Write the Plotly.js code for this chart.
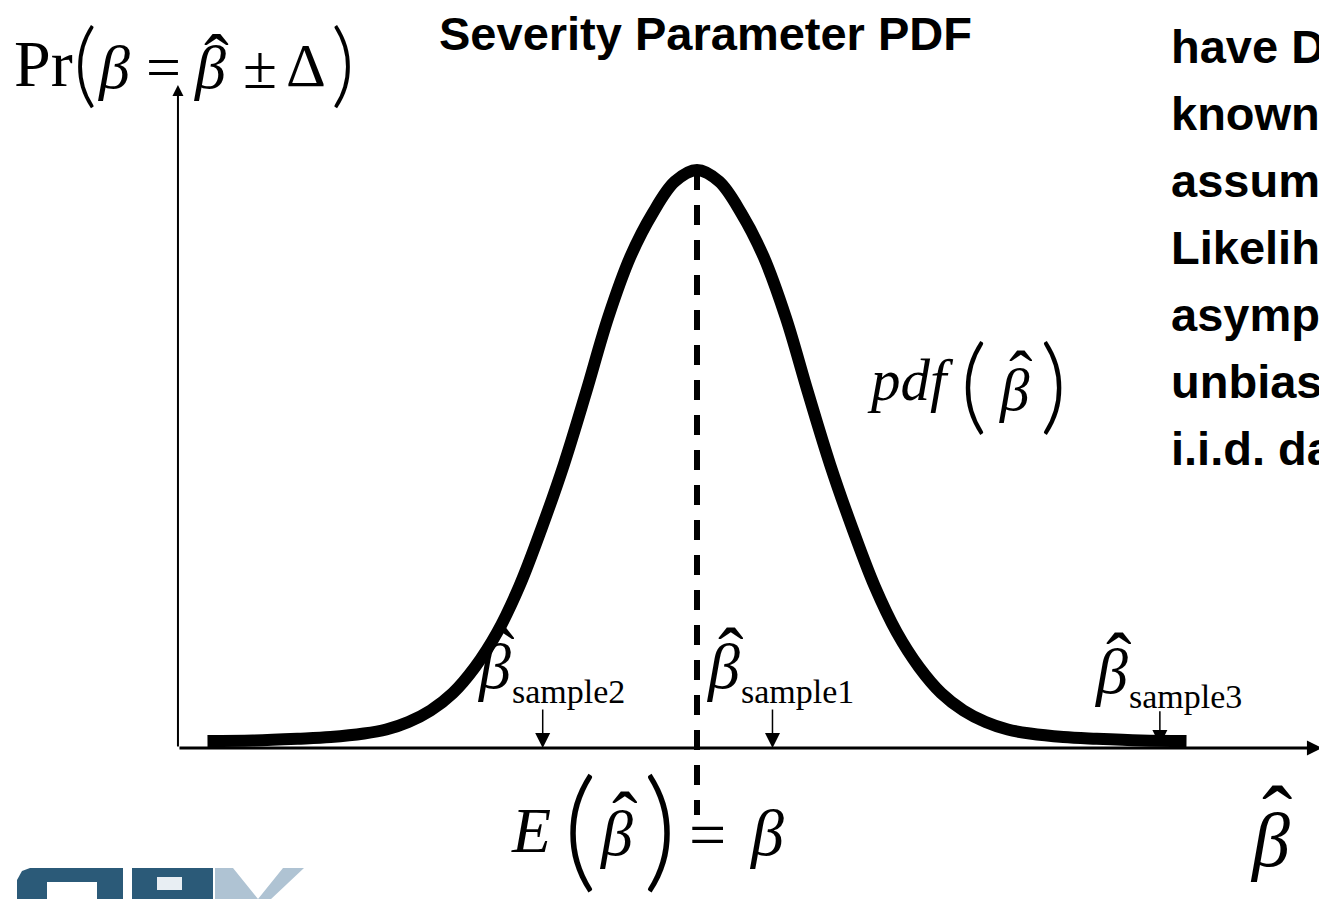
<!DOCTYPE html>
<html><head><meta charset="utf-8">
<script src="https://cdn.plot.ly/plotly-3.0.1.min.js"></script>
<style>html,body{margin:0;padding:0;overflow:hidden;background:#fff}</style>
</head><body><div id="chart" style="width:1319px;height:899px"></div>
<script>
// ---- data (x in standard-deviation units of beta-hat around its mean, y = density relative to peak)
const curveX = [-4.41, -4.0, -3.6, -3.3, -3.0, -2.8, -2.6, -2.4, -2.2, -2.0, -1.8, -1.6, -1.4, -1.2, -1.0, -0.8, -0.6, -0.4, -0.2, 0,
                0.2, 0.4, 0.6, 0.8, 1.0, 1.2, 1.4, 1.6, 1.8, 2.0, 2.2, 2.4, 2.6, 2.8, 3.0, 3.3, 3.6, 4.0, 4.41];
const curveY = [0.012, 0.013, 0.016, 0.019, 0.025, 0.032, 0.045, 0.065, 0.095, 0.140, 0.200, 0.280, 0.380, 0.490, 0.615, 0.745, 0.850, 0.925, 0.980, 1.0,
                0.980, 0.925, 0.850, 0.745, 0.615, 0.490, 0.380, 0.280, 0.200, 0.140, 0.095, 0.065, 0.045, 0.032, 0.025, 0.019, 0.016, 0.013, 0.012];
const meanX = 0;          // E(beta-hat) = beta
const peakY = 1.0;
const meanLineBottom = -0.116;
const sampleNames = ['sample2', 'sample1', 'sample3'];
const sampleX = [-1.39, 0.68, 4.17];
const sampleArrowTop = [0.069, 0.069, 0.066];
const sampleArrowTip = [0.0, 0.0, 0.005];
const axisOriginX = -4.676;
const axisTopY = 1.147;
const axisRightX = 5.63;
const sideLines = ['have Data', 'known', 'assume', 'Likelihood', 'asymptotically', 'unbiased', 'i.i.d. data'];
const titleText = 'Severity Parameter PDF';

const W = 1319, H = 899;
const SERIF = 'Liberation Serif, Times New Roman, serif';
const SANS = 'Liberation Sans, Arial, sans-serif';
const THIN = 'Lato, Roboto, Noto Sans, sans-serif';

function T(text, x, baseline, size, opts) {
  opts = opts || {};
  return {
    xref: 'paper', yref: 'paper', x: x / W, y: 1 - (baseline - 0.34 * size) / H,
    xanchor: opts.anchor || 'center', yanchor: 'middle', text: text, showarrow: false,
    font: { family: opts.family || SERIF, size: size, color: '#000' }
  };
}
function hat(cx, inkCy, size) {
  const s = size * 1.2;
  return T('\u02C6', cx, inkCy + 0.59 * s, s);
}
// tall parenthesis spanning ink rows top..bottom
function paren(ch, cx, top, bottom) {
  const size = (bottom - top) * 1.0;
  const cy = (top + bottom) / 2 - 0.09 * size;
  return {
    xref: 'paper', yref: 'paper', x: cx / W, y: 1 - cy / H, xanchor: 'center', yanchor: 'middle',
    text: ch, showarrow: false, font: { family: THIN, size: size, color: '#000', weight: 300 }
  };
}

const ann = [];
// axes
ann.push({ xref: 'x', yref: 'y', axref: 'x', ayref: 'y', x: axisOriginX, y: axisTopY, ax: axisOriginX, ay: 0,
  text: '', showarrow: true, arrowhead: 2, arrowsize: 1.1, arrowwidth: 2, arrowcolor: '#000', standoff: 0 });
ann.push({ xref: 'x', yref: 'y', axref: 'x', ayref: 'y', x: axisRightX, y: 0, ax: axisOriginX, ay: 0,
  text: '', showarrow: true, arrowhead: 2, arrowsize: 1, arrowwidth: 3, arrowcolor: '#000', standoff: 0 });

// sample arrows and labels
sampleX.forEach(function (sx, i) {
  ann.push({ xref: 'x', yref: 'y', axref: 'x', ayref: 'y', x: sx, y: sampleArrowTip[i], ax: sx, ay: sampleArrowTop[i],
    text: '', showarrow: true, arrowhead: 2, arrowsize: 2, arrowwidth: 1.5, arrowcolor: '#000', standoff: 0 });
  const lift = (i === 2) ? 5 : 0;
  const base = 688 + lift, subBase = 703 + lift;
  const b = T('<i>β</i>', 0, base, 64); b.xref = 'x'; b.x = sx; b.xshift = -49; ann.push(b);
  const h = hat(0, 636 + lift, 64); h.xref = 'x'; h.x = sx; h.xshift = -41; ann.push(h);
  const s = T(sampleNames[i], 0, subBase, 34, { anchor: 'left' }); s.xref = 'x'; s.x = sx; s.xshift = -33; ann.push(s);
});

// top-left formula  Pr(β = β̂ ± Δ)
ann.push(T('Pr', 12, 86, 66, { anchor: 'left' }));
ann.push(paren('(', 85, 22, 115));
ann.push(T('<i>β</i>', 114, 88, 62));
ann.push(T('=', 163, 88, 62));
ann.push(T('<i>β</i>', 210, 88, 62));
ann.push(hat(217, 42, 62));
ann.push(T('±', 260, 88, 62));
ann.push(T('Δ', 306, 86, 62));
ann.push(paren(')', 343, 22, 115));

// title
ann.push(T('<b>' + titleText + '</b>', 437, 49, 47, { anchor: 'left', family: SANS }));
// side text (cut by the right edge)
sideLines.forEach(function (t, i) {
  ann.push(T('<b>' + t + '</b>', 1169, 62 + 67 * i, 47, { anchor: 'left', family: SANS }));
});

// pdf(β̂)
ann.push(T('<i>pdf</i>', 865, 400, 59, { anchor: 'left' }));
ann.push(paren('(', 973, 337, 442));
ann.push(T('<i>β</i>', 1014, 410, 59));
ann.push(hat(1021, 357, 59));
ann.push(paren(')', 1053, 337, 442));

// E(β̂) = β
ann.push(T('<i>E</i>', 531, 852, 64));
ann.push(paren('(', 580, 770, 902));
ann.push(T('<i>β</i>', 616, 855, 64));
ann.push(hat(625, 800, 64));
ann.push(paren(')', 660, 770, 902));
ann.push(T('=', 707, 857, 66));
ann.push(T('<i>β</i>', 766, 855, 66));

// axis label β̂
ann.push(T('<i>β</i>', 1270, 866, 76));
ann.push(hat(1277, 796, 76));

// logo fragment (bottom-left)
function R(x0, y0, x1, y1, c) {
  return { type: 'rect', xref: 'paper', yref: 'paper', x0: x0 / W, x1: x1 / W, y0: 1 - y1 / H, y1: 1 - y0 / H,
    fillcolor: c, line: { width: 0 }, layer: 'above' };
}
function P(pts, c) {
  let d = 'M' + pts.map(function (p) { return (p[0] / W) + ',' + (1 - p[1] / H); }).join('L') + 'Z';
  return { type: 'path', xref: 'paper', yref: 'paper', path: d, fillcolor: c, line: { width: 0 }, layer: 'above' };
}
const DARK = '#2b5a78', LIGHT = '#afc3d3';
const shapes = [
  P([[17, 880], [22, 871], [30, 868], [123, 868], [123, 900], [17, 900]], DARK),
  R(47, 882, 97, 900, '#ffffff'),
  R(132, 868, 213, 900, DARK),
  R(157, 877, 182, 890, '#e8eef3'),
  P([[215, 868], [233, 868], [258, 899], [283, 868], [304, 868], [270, 900], [215, 900]], LIGHT)
];

const traces = [
  { x: curveX, y: curveY, type: 'scatter', mode: 'lines', line: { color: '#000', width: 12, shape: 'spline', smoothing: 1 },
    hoverinfo: 'skip' },
  { x: [meanX, meanX], y: [peakY, meanLineBottom], type: 'scatter', mode: 'lines',
    line: { color: '#000', width: 6, dash: '20px,15px' }, hoverinfo: 'skip' }
];

const layout = {
  width: W, height: H, margin: { l: 0, r: 0, t: 0, b: 0, pad: 0 },
  paper_bgcolor: '#fff', plot_bgcolor: '#fff', showlegend: false,
  xaxis: { range: [-697 / 111, (W - 697) / 111], visible: false, fixedrange: true },
  yaxis: { range: [(748 - H) / 578, 748 / 578], visible: false, fixedrange: true },
  annotations: ann, shapes: shapes
};
Plotly.newPlot('chart', traces, layout, { staticPlot: true, displayModeBar: false });
</script></body></html>
